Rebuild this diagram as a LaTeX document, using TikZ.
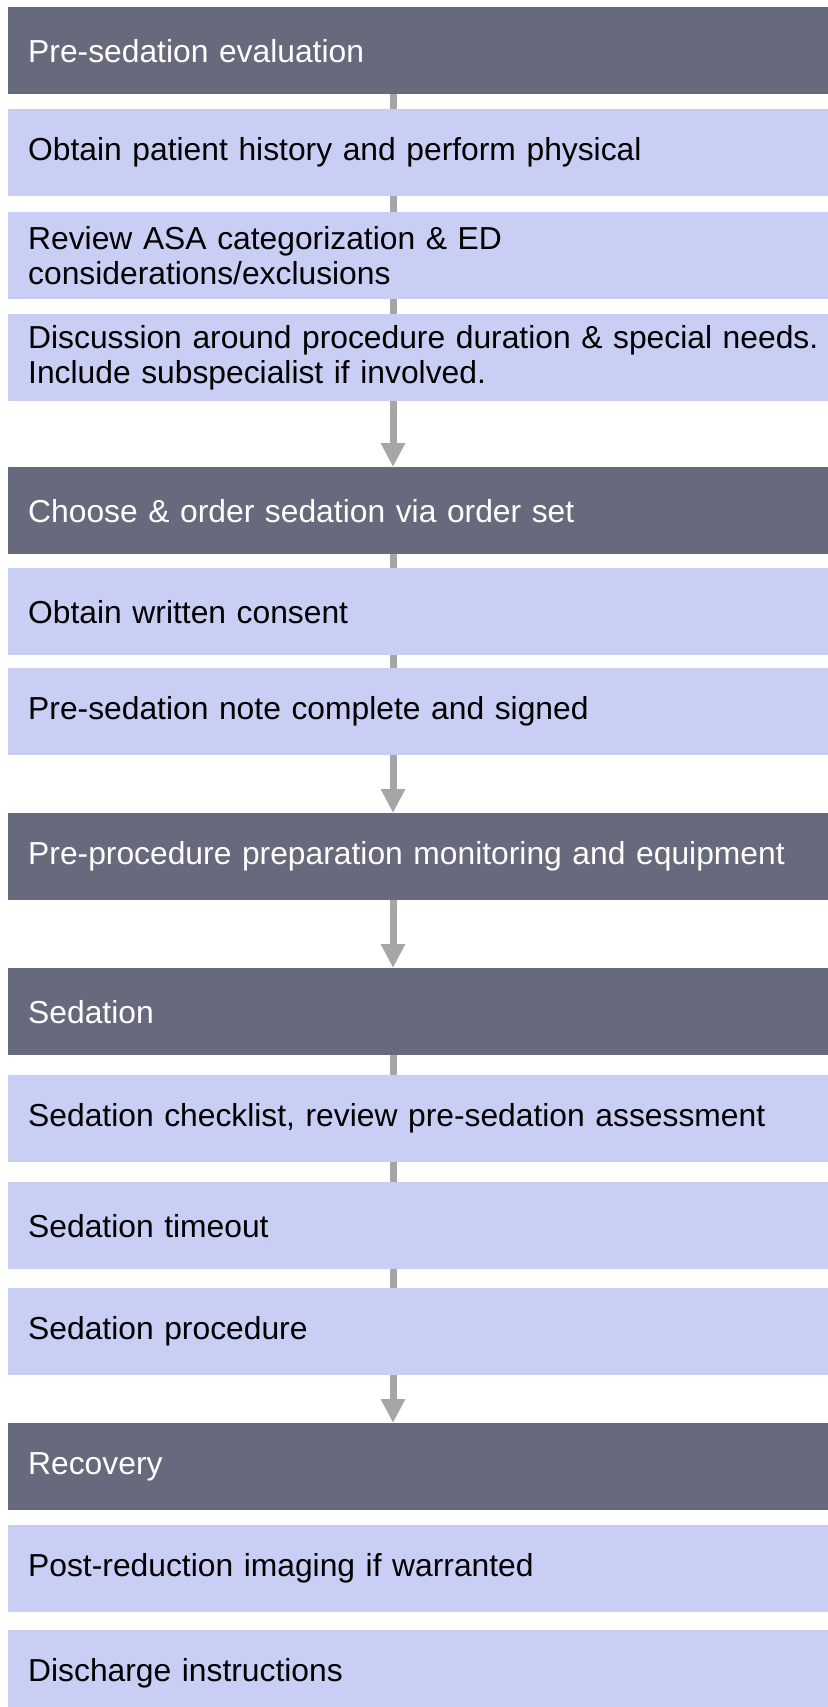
\documentclass[tikz,border=0pt]{standalone}
\usepackage{fontspec}
\setmainfont{Liberation Sans}
\usetikzlibrary{arrows.meta}
\definecolor{headgray}{HTML}{666A7C}
\definecolor{steplav}{HTML}{C9CEF4}
\definecolor{linkgray}{HTML}{A6A6A6}

\begin{document}
\begin{tikzpicture}[x=1pt,y=-1pt,
	box/.style={anchor=north west, minimum height=87pt, inner xsep=20pt, inner ysep=0pt,
		text width=800pt, align=left, font=\fontsize{31.8}{35}\selectfont},
	head/.style={box, fill=headgray, text=white},
	item/.style={box, fill=steplav, text=black},
	link/.style={draw=linkgray, line width=7pt},
	arrow/.style={link, -{Triangle[width=23pt,length=24pt]}}]
	\useasboundingbox (0,0) rectangle (827,1707);
	\coordinate (S) at (393,0);
	% evaluation
	\node[head] (A) at (8,7) {Pre-sedation evaluation};
	\node[item] (B) at (8,109) {Obtain patient history and perform physical};
	\node[item] (C) at (8,212) {Review ASA categorization \& ED\\considerations/exclusions};
	\node[item] (D) at (8,314) {Discussion around procedure duration \& special needs.\\Include subspecialist if involved.};
	% order
	\node[head] (E) at (8,467) {Choose \& order sedation via order set};
	\node[item] (F) at (8,568) {Obtain written consent};
	\node[item] (G) at (8,668) {Pre-sedation note complete and signed};
	\node[head] (H) at (8,813) {Pre-procedure preparation monitoring and equipment};
	% sedation
	\node[head] (I) at (8,968) {Sedation};
	\node[item] (J) at (8,1075) {Sedation checklist, review pre-sedation assessment};
	\node[item] (K) at (8,1182) {Sedation timeout};
	\node[item] (L) at (8,1288) {Sedation procedure};
	% recovery
	\node[head] (M) at (8,1423) {Recovery};
	\node[item] (N) at (8,1525) {Post-reduction imaging if warranted};
	\node[item] (O) at (8,1630) {Discharge instructions};
	\foreach \a/\b in {A/B,B/C,C/D,E/F,F/G,I/J,J/K,K/L}
		\draw[link] (\a.south -| S) -- (\b.north -| S);
	\foreach \a/\b in {D/E,G/H,H/I,L/M}
		\draw[arrow] (\a.south -| S) -- (\b.north -| S);
\end{tikzpicture}
\end{document}
